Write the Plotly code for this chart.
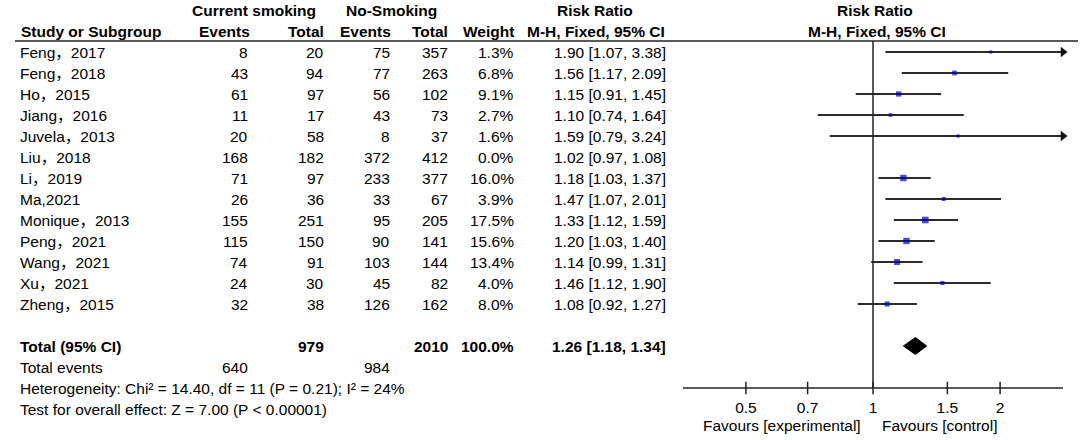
import math
import plotly.graph_objects as go

# ---------------- data ----------------
studies = ["Feng，2017", "Feng，2018", "Ho，2015", "Jiang，2016", "Juvela，2013",
           "Liu，2018", "Li，2019", "Ma,2021", "Monique，2013", "Peng，2021",
           "Wang，2021", "Xu，2021", "Zheng，2015"]
cur_events = [8, 43, 61, 11, 20, 168, 71, 26, 155, 115, 74, 24, 32]
cur_total = [20, 94, 97, 17, 58, 182, 97, 36, 251, 150, 91, 30, 38]
no_events = [75, 77, 56, 43, 8, 372, 233, 33, 95, 90, 103, 45, 126]
no_total = [357, 263, 102, 73, 37, 412, 377, 67, 205, 141, 144, 82, 162]
weight = [1.3, 6.8, 9.1, 2.7, 1.6, 0.0, 16.0, 3.9, 17.5, 15.6, 13.4, 4.0, 8.0]
rr = [1.90, 1.56, 1.15, 1.10, 1.59, 1.02, 1.18, 1.47, 1.33, 1.20, 1.14, 1.46, 1.08]
ci_low = [1.07, 1.17, 0.91, 0.74, 0.79, 0.97, 1.03, 1.07, 1.12, 1.03, 0.99, 1.12, 0.92]
ci_high = [3.38, 2.09, 1.45, 1.64, 3.24, 1.08, 1.37, 2.01, 1.59, 1.40, 1.31, 1.90, 1.27]

total_cur_n = 979
total_no_n = 2010
total_weight = 100.0
total_cur_events = 640
total_no_events = 984
pooled_rr = 1.26
pooled_low = 1.18
pooled_high = 1.34
heterogeneity_text = "Heterogeneity: Chi² = 14.40, df = 11 (P = 0.21); I² = 24%"
overall_text = "Test for overall effect: Z = 7.00 (P < 0.00001)"

tick_vals = [0.5, 0.7, 1, 1.5, 2]
tick_text = ["0.5", "0.7", "1", "1.5", "2"]
axis_min, axis_max = 0.3548, 2.818

# ---------------- layout helpers ----------------
W, H = 1084, 440
ROW0, ROWH = 52.0, 21.0          # pixel y of first study row, row spacing
def row_of_px(py):
    return (py - ROW0) / ROWH

FONT = "Liberation Sans, Arial, Noto Sans CJK SC, sans-serif"
FS = 15.5
BLACK = "#000000"

rows = list(range(len(studies)))
total_row = len(studies) + 1
events_row = total_row + 1
het_row = total_row + 2
test_row = total_row + 3
axis_row = het_row

fig = go.Figure()

# confidence interval whiskers (clipped at axis range, arrow if beyond)
for i in rows:
    if weight[i] <= 0:
        continue
    lo = max(ci_low[i], axis_min)
    hi = min(ci_high[i], axis_max)
    fig.add_trace(go.Scatter(x=[lo, hi], y=[i, i], mode="lines",
                             line=dict(color="#2b2b2b", width=2),
                             hoverinfo="skip", showlegend=False, cliponaxis=False))
    if ci_high[i] > axis_max:
        fig.add_trace(go.Scatter(x=[axis_max], y=[i], mode="markers",
                                 marker=dict(symbol="triangle-right", size=9, color="#111111"),
                                 hoverinfo="skip", showlegend=False, cliponaxis=False))

# point estimates (size by weight)
px_ = [rr[i] for i in rows if weight[i] > 0]
py_ = [i for i in rows if weight[i] > 0]
ps_ = [1.8 + 1.15 * math.sqrt(weight[i]) for i in rows if weight[i] > 0]
fig.add_trace(go.Scatter(x=px_, y=py_, mode="markers",
                         marker=dict(symbol="square", size=ps_, color="#0000CC",
                                     line=dict(width=0)),
                         hoverinfo="skip", showlegend=False, cliponaxis=False))

# line of no effect
fig.add_trace(go.Scatter(x=[1, 1], y=[row_of_px(41), axis_row], mode="lines",
                         line=dict(color="#222222", width=1.5),
                         hoverinfo="skip", showlegend=False, cliponaxis=False))

# pooled diamond
dh = 8.5 / ROWH
fig.add_trace(go.Scatter(x=[pooled_low, pooled_rr, pooled_high, pooled_rr, pooled_low],
                         y=[total_row, total_row - dh, total_row, total_row + dh, total_row],
                         mode="lines", fill="toself", fillcolor="black",
                         line=dict(color="black", width=1),
                         hoverinfo="skip", showlegend=False, cliponaxis=False))

# axis line and tick marks
fig.add_trace(go.Scatter(x=[axis_min, axis_max], y=[axis_row, axis_row], mode="lines",
                         line=dict(color="#222222", width=1.5),
                         hoverinfo="skip", showlegend=False, cliponaxis=False))
fig.add_trace(go.Scatter(x=tick_vals, y=[axis_row] * len(tick_vals), mode="markers",
                         marker=dict(symbol="line-ns", size=9,
                                     line=dict(color="#222222", width=1.5)),
                         hoverinfo="skip", showlegend=False, cliponaxis=False))

# ---------------- text table ----------------
ann = []
def txt(text, xpx, row, anchor="right", bold=False, size=FS):
    ann.append(dict(text=f"<b>{text}</b>" if bold else text,
                    x=xpx / W, xref="paper", y=row, yref="y",
                    xanchor=anchor, yanchor="middle", showarrow=False,
                    font=dict(family=FONT, size=size, color=BLACK)))

hr1, hr2 = -2, -1
txt("Current smoking", 190, hr1, "left", True)
txt("No-Smoking", 344, hr1, "left", True)
txt("Risk Ratio", 595, hr1, "center", True)
txt("Risk Ratio", 875, hr1, "center", True)
txt("Study or Subgroup", 19, hr2, "left", True)
txt("Events", 252, hr2, "right", True)
txt("Total", 326, hr2, "right", True)
txt("Events", 393, hr2, "right", True)
txt("Total", 450, hr2, "right", True)
txt("Weight", 516, hr2, "right", True)
txt("M-H, Fixed, 95% CI", 667, hr2, "right", True)
txt("M-H, Fixed, 95% CI", 877, hr2, "center", True)

for i in rows:
    txt(studies[i], 18, i, "left")
    txt(str(cur_events[i]), 250, i)
    txt(str(cur_total[i]), 326, i)
    txt(str(no_events[i]), 392, i)
    txt(str(no_total[i]), 450, i)
    txt(f"{weight[i]:.1f}%", 516, i)
    txt(f"{rr[i]:.2f} [{ci_low[i]:.2f}, {ci_high[i]:.2f}]", 668, i)

txt("Total (95% CI)", 18, total_row, "left", True)
txt(str(total_cur_n), 326, total_row, "right", True)
txt(str(total_no_n), 450, total_row, "right", True)
txt(f"{total_weight:.1f}%", 516, total_row, "right", True)
txt(f"{pooled_rr:.2f} [{pooled_low:.2f}, {pooled_high:.2f}]", 668, total_row, "right", True)
txt("Total events", 18, events_row, "left")
txt(str(total_cur_events), 250, events_row)
txt(str(total_no_events), 392, events_row)
txt(heterogeneity_text, 18, het_row, "left")
txt(overall_text, 18, test_row, "left")

# favours labels
ann.append(dict(text="Favours [experimental]", x=0, xref="x", y=1 - 425 / H, yref="paper",
                xanchor="right", yanchor="middle", xshift=-10, showarrow=False,
                font=dict(family=FONT, size=FS, color=BLACK)))
ann.append(dict(text="Favours [control]", x=0, xref="x", y=1 - 425 / H, yref="paper",
                xanchor="left", yanchor="middle", xshift=7, showarrow=False,
                font=dict(family=FONT, size=FS, color=BLACK)))

shapes = [dict(type="line", xref="paper", yref="y", x0=15 / W, x1=1078 / W,
               y0=row_of_px(41), y1=row_of_px(41),
               line=dict(color="#222222", width=1.5))]

fig.update_layout(
    width=W, height=H, margin=dict(l=0, r=0, t=0, b=0),
    paper_bgcolor="white", plot_bgcolor="white",
    annotations=ann, shapes=shapes, showlegend=False, hovermode=False,
    xaxis=dict(type="log", domain=[683 / W, 1063 / W],
               range=[math.log10(axis_min), math.log10(axis_max)],
               tickvals=tick_vals, ticktext=tick_text, ticks="",
               showline=False, showgrid=False, zeroline=False,
               anchor="free", position=1 - 388 / H, ticklabelstandoff=8,
               tickfont=dict(family=FONT, size=FS, color=BLACK)),
    yaxis=dict(range=[row_of_px(H), row_of_px(0)], domain=[0, 1],
               visible=False, showgrid=False, zeroline=False),
)

fig.write_html("out.html", config={"displayModeBar": False, "staticPlot": True},
               post_script="document.body.style.margin='0';document.body.style.overflow='hidden';")
